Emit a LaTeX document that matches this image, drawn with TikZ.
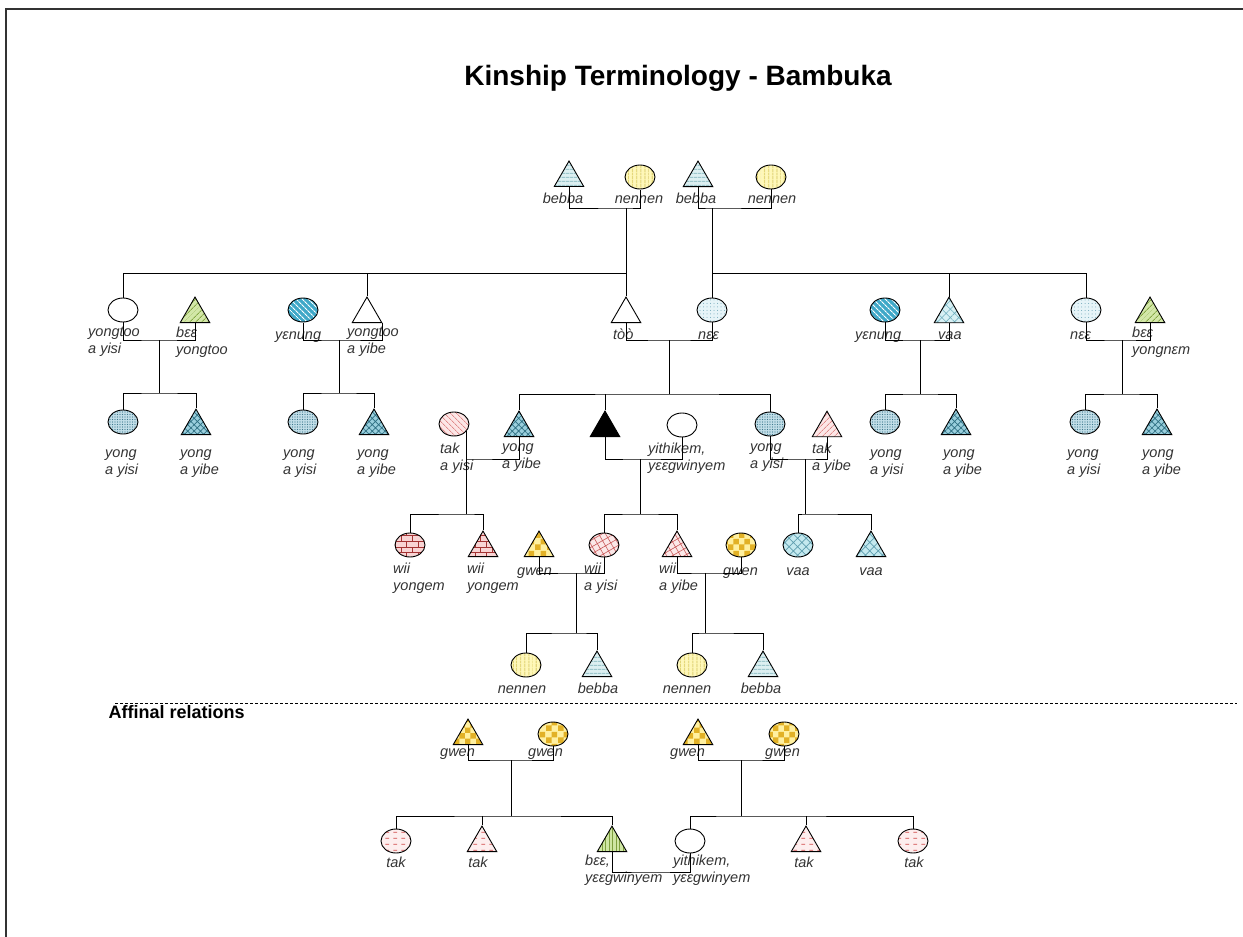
\documentclass[tikz,border=0pt]{standalone}
\usepackage{fontspec}
\setmainfont{Liberation Sans}
\usetikzlibrary{shapes.geometric,patterns,patterns.meta}
\definecolor{cBebba}{HTML}{DCEFF1}\definecolor{lBebba}{HTML}{9CC6CC}
\definecolor{cNennen}{HTML}{FFF8B8}\definecolor{lNennen}{HTML}{D9C95E}
\definecolor{cGreen}{HTML}{D3E7A8}\definecolor{lGreen}{HTML}{86A845}
\definecolor{cYen}{HTML}{3FA8C8}
\definecolor{cYong}{HTML}{C2DEE8}\definecolor{lYong}{HTML}{3F7A8E}
\definecolor{cYongT}{HTML}{9ACFDD}\definecolor{lYongT}{HTML}{2E6F82}
\definecolor{cNee}{HTML}{E6F4F8}\definecolor{lNee}{HTML}{6FA6B8}
\definecolor{cVaa}{HTML}{D7F0F4}\definecolor{lVaa}{HTML}{6FAFBE}
\definecolor{cVaaB}{HTML}{C4E9EF}\definecolor{lVaaB}{HTML}{5E9DAE}
\definecolor{cTak}{HTML}{FCE6E6}\definecolor{lTak}{HTML}{D25A5A}
\definecolor{cWiiY}{HTML}{F8D4D4}\definecolor{lWiiY}{HTML}{A33333}
\definecolor{cGwen}{HTML}{FFF0A0}\definecolor{lGwen}{HTML}{E2B126}
\definecolor{cWii}{HTML}{FBE8E8}\definecolor{lWii}{HTML}{C85A5A}
\definecolor{cTakA}{HTML}{FDEEEE}\definecolor{lTakA}{HTML}{D04848}
\definecolor{cBeeA}{HTML}{CFE6A3}\definecolor{lBeeA}{HTML}{7E9F3E}
\definecolor{txt}{HTML}{333333}
\tikzdeclarepattern{name=hdash, type=uncolored,
  bounding box={(0pt,0pt) and (8pt,6pt)}, tile size={(8pt,6pt)},
  code={\draw[line width=0.8pt] (1.5pt,3pt) -- (5.5pt,3pt);}}
\begin{document}
\begin{tikzpicture}[x=1pt,y=-1pt,
  con/.style={draw=black, line width=1pt},
  tri/.style={regular polygon, regular polygon sides=3, minimum size=34pt, inner sep=0pt, draw=black, line width=0.9pt, anchor=south},
  circ/.style={ellipse, minimum width=30pt, minimum height=24pt, inner sep=0pt, draw=black, line width=0.9pt},
  pat/.style n args={3}{preaction={fill=#1}, pattern={#2}, pattern color=#3},
  bebba/.style={pat={cBebba}{Lines[angle=0,distance=4pt,line width=1pt]}{lBebba}},
  nennen/.style={pat={cNennen}{Lines[angle=90,distance=4pt,line width=1pt]}{lNennen}},
  green/.style={pat={cGreen}{Lines[angle=45,distance=4pt,line width=0.9pt]}{lGreen}},
  yen/.style={pat={cYen}{Lines[angle=-45,distance=4pt,line width=1.1pt]}{white}},
  yongc/.style={pat={cYong}{Dots[distance=2.5pt,radius=0.55pt]}{lYong}},
  yongt/.style={pat={cYongT}{Hatch[angle=45,distance=4.5pt,line width=0.7pt]}{lYongT}},
  nee/.style={pat={cNee}{Dots[distance=3.5pt,radius=0.5pt]}{lNee}},
  vaat/.style={pat={cVaa}{Hatch[angle=45,distance=6pt,line width=0.6pt]}{lVaa}},
  vaab/.style={pat={cVaaB}{Hatch[angle=45,distance=6pt,line width=0.7pt]}{lVaaB}},
  takc/.style={pat={cTak}{Lines[angle=-45,distance=4pt,line width=0.6pt]}{lTak}},
  takt/.style={pat={cTak}{Lines[angle=45,distance=4pt,line width=0.6pt]}{lTak}},
  wiiy/.style={pat={cWiiY}{bricks}{lWiiY}},
  gwen/.style={pat={cGwen}{checkerboard}{lGwen}},
  wii/.style={pat={cWii}{Hatch[angle=30,distance=6pt,line width=0.6pt]}{lWii}},
  taka/.style={pat={cTakA}{hdash}{lTakA}},
  beea/.style={pat={cBeeA}{Lines[angle=90,distance=3.5pt,line width=0.8pt]}{lBeeA}},
  plain/.style={fill=white},
  lbl/.style={font=\fontsize{14.5}{17}\selectfont\itshape, text=txt, inner sep=0pt, align=left, anchor=north west, yshift=11.9pt, execute at begin node=\strut},
  clbl/.style={lbl, anchor=north, align=center}
]
\useasboundingbox (0,0) rectangle (1243,937);
\coordinate (bA) at (6,937); \coordinate (bB) at (6,9); \coordinate (bC) at (1243,9);
\draw[line width=2pt, black!80] (bA) -- (bB) -- (bC);

\node[font=\fontsize{28}{32}\selectfont\bfseries, anchor=base] (title) at (678,85) {Kinship Terminology - Bambuka};
\node[font=\fontsize{18}{21}\selectfont\bfseries, anchor=base west] (aff) at (105,718) {Affinal relations};

% ---- row 1
\node[tri, bebba] (gp1m) at (569,187) {};
\node[circ, nennen] (gp1f) at (640,177) {};
\node[tri, bebba] (gp2m) at (698,187) {};
\node[circ, nennen] (gp2f) at (771,177) {};
\node[clbl] (L1) at (563,203) {bebba};
\node[clbl] (L2) at (639,203) {nennen};
\node[clbl] (L3) at (696,203) {bebba};
\node[clbl] (L4) at (772,203) {nennen};

% ---- row 2
\node[circ, plain] (yty) at (123,310) {};
\node[tri, green] (bey1) at (195,323) {};
\node[circ, yen] (yen1) at (303,310) {};
\node[tri, plain] (ytb) at (367,323) {};
\node[tri, plain] (too) at (626,323) {};
\node[circ, nee] (nee1) at (712,310) {};
\node[circ, yen] (yen2) at (885,310) {};
\node[tri, vaat] (vaa1) at (949,323) {};
\node[circ, nee] (nee2) at (1086,310) {};
\node[tri, green] (bey2) at (1150,323) {};
\node[lbl] (L5) at (88,339) {yongtoo\\a yisi};
\node[lbl] (L6) at (176,339) {bɛɛ\\yongtoo};
\node[lbl] (L7) at (275,339) {yɛnung};
\node[lbl] (L8) at (347,339) {yongtoo\\a yibe};
\node[lbl] (L9) at (613,339) {tòò};
\node[lbl] (L10) at (698,339) {nɛɛ};
\node[lbl] (L11) at (855,339) {yɛnung};
\node[lbl] (L12) at (938,339) {vaa};
\node[lbl] (L13) at (1070,339) {nɛɛ};
\node[lbl] (L14) at (1132,339) {bɛɛ\\yongnɛm};

% ---- row 3
\node[circ, yongc] (c1y) at (123,422) {};
\node[tri, yongt] (c1b) at (196,435) {};
\node[circ, yongc] (c2y) at (303,422) {};
\node[tri, yongt] (c2b) at (374,435) {};
\node[circ, takc] (tkc) at (454,424) {};
\node[tri, yongt] (yyb) at (519,437) {};
\node[tri, fill=black] (ego) at (605,437) {};
\node[circ, plain] (yith) at (682,425) {};
\node[circ, yongc] (yys) at (770,424) {};
\node[tri, takt] (tyb) at (827,437) {};
\node[circ, yongc] (c3y) at (885,422) {};
\node[tri, yongt] (c3b) at (956,435) {};
\node[circ, yongc] (c4y) at (1085,422) {};
\node[tri, yongt] (c4b) at (1157,435) {};
\node[lbl] (L15) at (105,461) {yong\\a yisi};
\node[lbl] (L16) at (180,461) {yong\\a yibe};
\node[lbl] (L17) at (283,461) {yong\\a yisi};
\node[lbl] (L18) at (357,461) {yong\\a yibe};
\node[lbl] (L19) at (440,455) {tak\\a yisi};
\node[lbl] (L20) at (502,455) {yong\\a yibe};
\node[lbl] (L21) at (648,455) {yithikem,\\yɛɛgwinyem};
\node[lbl] (L22) at (750,455) {yong\\a yisi};
\node[lbl] (L23) at (812,455) {tak\\a yibe};
\node[lbl] (L24) at (870,461) {yong\\a yisi};
\node[lbl] (L25) at (943,461) {yong\\a yibe};
\node[lbl] (L26) at (1067,461) {yong\\a yisi};
\node[lbl] (L27) at (1142,461) {yong\\a yibe};

% ---- row 4
\node[circ, wiiy] (wyc) at (410,545) {};
\node[tri, wiiy] (wyt) at (483,557) {};
\node[tri, gwen] (g1) at (539,557) {};
\node[circ, wii] (wys) at (604,545) {};
\node[tri, wii] (wyb) at (677,557) {};
\node[circ, gwen] (g2) at (741,545) {};
\node[circ, vaab] (vaac) at (798,545) {};
\node[tri, vaab] (vaat2) at (871,557) {};
\node[lbl] (L28) at (393,575) {wii\\yongem};
\node[lbl] (L29) at (467,575) {wii\\yongem};
\node[lbl] (L30) at (517,575) {gwen};
\node[lbl] (L31) at (584,575) {wii\\a yisi};
\node[lbl] (L32) at (659,575) {wii\\a yibe};
\node[lbl] (L33) at (723,575) {gwen};
\node[clbl] (L34) at (798,575) {vaa};
\node[clbl] (L35) at (871,575) {vaa};

% ---- row 5
\node[circ, nennen] (n1) at (526,665) {};
\node[tri, bebba] (b1) at (597,677) {};
\node[circ, nennen] (n2) at (692,665) {};
\node[tri, bebba] (b2) at (763,677) {};
\node[clbl] (L36) at (522,693) {nennen};
\node[clbl] (L37) at (598,693) {bebba};
\node[clbl] (L38) at (687,693) {nennen};
\node[clbl] (L39) at (761,693) {bebba};

\coordinate (dl) at (115,703); \coordinate (dr) at (1237,703);
\draw[line width=0.8pt, dash pattern=on 3pt off 2pt] (dl) -- (dr);

% ---- affinal
\node[tri, gwen] (ga1) at (468,745) {};
\node[circ, gwen] (gc1) at (553,734) {};
\node[tri, gwen] (ga2) at (698,745) {};
\node[circ, gwen] (gc2) at (784,734) {};
\node[circ, taka] (tc1) at (396,841) {};
\node[tri, taka] (tt1) at (482,852) {};
\node[tri, beea] (bee) at (612,852) {};
\node[circ, plain] (yith2) at (690,841) {};
\node[tri, taka] (tt2) at (806,852) {};
\node[circ, taka] (tc2) at (913,841) {};
\node[lbl] (L40) at (440,756) {gwen};
\node[lbl] (L41) at (528,756) {gwen};
\node[lbl] (L42) at (670,756) {gwen};
\node[lbl] (L43) at (765,756) {gwen};
\node[clbl] (L44) at (396,867) {tak};
\node[clbl] (L45) at (478,867) {tak};
\node[lbl] (L46) at (585,867) {bɛɛ,\\yɛɛgwinyem};
\node[lbl] (L47) at (673,867) {yithikem,\\yɛɛgwinyem};
\node[clbl] (L48) at (804,867) {tak};
\node[clbl] (L49) at (914,867) {tak};

% ---- connectors
\coordinate (m1) at (626,208); \coordinate (s1) at (626,273);
\coordinate (m2) at (712,208); \coordinate (s2) at (712,273);
\draw[con] (gp1m.south) |- (m1) -| (gp1f.south);
\draw[con] (m1) -- (too.north);
\draw[con] (yty.north) |- (s1);
\draw[con] (ytb.north) -- (ytb.north |- s1);
\draw[con] (gp2m.south) |- (m2) -| (gp2f.south);
\draw[con] (m2) -- (nee1.north);
\draw[con] (s2) -| (nee2.north);
\draw[con] (vaa1.north) -- (vaa1.north |- s2);

\coordinate (m3) at (159,340); \coordinate (s3) at (159,393);
\draw[con] (yty.south) |- (m3) -| (bey1.south);
\draw[con] (m3) -- (s3);
\draw[con] (c1y.north) |- (s3) -| (c1b.north);

\coordinate (m4) at (339,340); \coordinate (s4) at (339,393);
\draw[con] (yen1.south) |- (m4) -| (ytb.corner 3);
\draw[con] (m4) -- (s4);
\draw[con] (c2y.north) |- (s4) -| (c2b.north);

\coordinate (m5) at (669,340); \coordinate (s5) at (669,394);
\draw[con] (too.south) |- (m5) -| (nee1.south);
\draw[con] (m5) -- (s5);
\draw[con] (yyb.north) |- (s5) -| (yys.north);
\draw[con] (ego.north) -- (ego.north |- s5);

\coordinate (m3b) at (920,340); \coordinate (s3b) at (920,394);
\draw[con] (yen2.south) |- (m3b) -| (vaa1.south);
\draw[con] (m3b) -- (s3b);
\draw[con] (c3y.north) |- (s3b) -| (c3b.north);

\coordinate (m4b) at (1122,340); \coordinate (s4b) at (1122,394);
\draw[con] (nee2.south) |- (m4b) -| (bey2.south);
\draw[con] (m4b) -- (s4b);
\draw[con] (c4y.north) |- (s4b) -| (c4b.north);

\coordinate (m6) at (466,459); \coordinate (s6) at (466,514);
\draw[con] (tkc.-30) |- (m6) -| (yyb.south);
\draw[con] (m6) -- (s6);
\draw[con] (wyc.north) |- (s6) -| (wyt.north);

\coordinate (m7) at (640,459); \coordinate (s7) at (640,514);
\draw[con] (ego.south) |- (m7) -| (yith.south);
\draw[con] (m7) -- (s7);
\draw[con] (wys.north) |- (s7) -| (wyb.north);

\coordinate (m8) at (805,459); \coordinate (s8) at (805,514);
\draw[con] (yys.south) |- (m8) -| (tyb.south);
\draw[con] (m8) -- (s8);
\draw[con] (vaac.north) |- (s8) -| (vaat2.north);

\coordinate (m9) at (576,573); \coordinate (s9) at (576,633);
\draw[con] (g1.south) |- (m9) -| (wys.south);
\draw[con] (m9) -- (s9);
\draw[con] (n1.north) |- (s9) -| (b1.north);

\coordinate (m10) at (705,573); \coordinate (s10) at (705,633);
\draw[con] (wyb.south) |- (m10) -| (g2.south);
\draw[con] (m10) -- (s10);
\draw[con] (n2.north) |- (s10) -| (b2.north);

\coordinate (m11) at (511,760); \coordinate (s11) at (511,816);
\draw[con] (ga1.south) |- (m11) -| (gc1.south);
\draw[con] (m11) -- (s11);
\draw[con] (tc1.north) |- (s11) -| (bee.north);
\draw[con] (tt1.north) -- (tt1.north |- s11);

\coordinate (m12) at (741,760); \coordinate (s12) at (741,816);
\draw[con] (ga2.south) |- (m12) -| (gc2.south);
\draw[con] (m12) -- (s12);
\draw[con] (yith2.north) |- (s12) -| (tc2.north);
\draw[con] (tt2.north) -- (tt2.north |- s12);

\coordinate (m13) at (650,872);
\draw[con] (bee.south) |- (m13) -| (yith2.south);
\end{tikzpicture}
\end{document}
